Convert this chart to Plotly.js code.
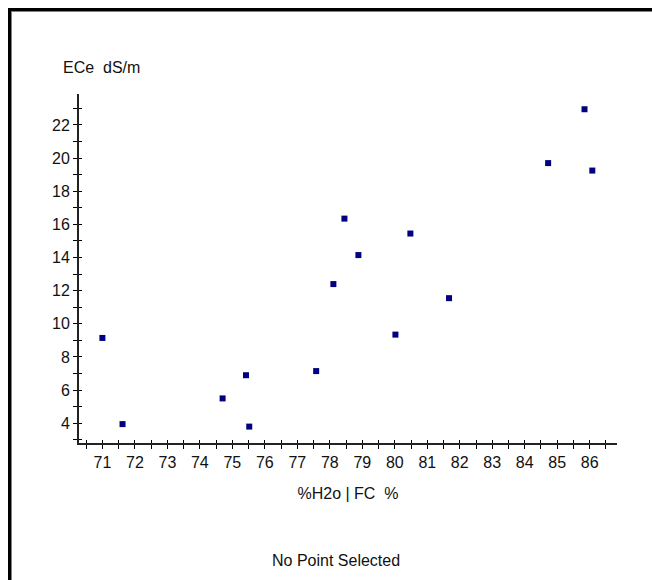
<!DOCTYPE html>
<html>
<head>
<meta charset="utf-8">
<script src="https://cdn.plot.ly/plotly-3.0.1.min.js"></script>
<style>
  html, body { margin: 0; padding: 0; background: #fff; }
  #wrap { position: relative; width: 652px; height: 580px; overflow: hidden; }
  #chart { position: absolute; left: 0; top: 0; width: 652px; height: 580px; }
  #frame { position: absolute; left: 8px; top: 8px; width: 644px; height: 572px;
           box-sizing: border-box; border-top: 3px solid #000; border-left: 3px solid #000;
           box-shadow: inset 1px 1px 0 #808080; pointer-events: none; }
</style>
</head>
<body>
<div id="wrap">
  <div id="chart"></div>
  <div id="frame"></div>
</div>
<script>
// Data
const xValues = [71.00, 71.62, 74.70, 75.42, 75.52, 77.58, 78.11, 78.45, 78.88, 80.02, 80.48, 81.67, 84.72, 85.84, 86.08];
const yValues = [9.15, 3.95, 5.50, 6.90, 3.80, 7.15, 12.40, 16.35, 14.15, 9.35, 15.45, 11.55, 19.70, 22.95, 19.25];

const xTitle = '%H2o | FC  %';
const yTitle = 'ECe  dS/m';
const statusText = 'No Point Selected';

const xRange = [70.28, 86.84];
const yRange = [2.81, 23.87];

const FONT = 'Liberation Sans, Arial, sans-serif';
const TXT = '#111';

const traces = [
  {
    x: xValues, y: yValues, type: 'scatter', mode: 'markers',
    marker: { symbol: 'square', size: 6, color: '#000080' },
    hoverinfo: 'skip', xaxis: 'x', yaxis: 'y'
  },
  {
    // companion trace so the inner-tick overlay axes are drawn
    x: xValues, y: yValues, type: 'scatter', mode: 'markers',
    marker: { size: 1, opacity: 0 },
    hoverinfo: 'skip', xaxis: 'x2', yaxis: 'y2', showlegend: false
  }
];

const baseAxis = {
  showgrid: false, zeroline: false, fixedrange: true
};

const layout = {
  width: 652, height: 580,
  margin: { l: 79, r: 35, t: 94, b: 137 },
  paper_bgcolor: '#fff', plot_bgcolor: '#fff',
  showlegend: false, hovermode: false,
  font: { family: FONT, size: 16, color: TXT },
  xaxis: Object.assign({}, baseAxis, {
    range: xRange, tick0: 0, dtick: 1,
    ticks: 'outside', ticklen: 4, tickwidth: 1, tickcolor: '#000',
    showline: true, linewidth: 2, linecolor: '#222',
    minor: { dtick: 0.5, ticks: 'outside', ticklen: 4, tickwidth: 1, tickcolor: '#000', showgrid: false },
    tickfont: { family: FONT, size: 16, color: TXT },
    title: { text: xTitle, standoff: 18, font: { family: FONT, size: 16, color: TXT } }
  }),
  yaxis: Object.assign({}, baseAxis, {
    range: yRange, tick0: 0, dtick: 2,
    ticks: 'outside', ticklen: 4, tickwidth: 1, tickcolor: '#000',
    showline: true, linewidth: 2, linecolor: '#222',
    minor: { dtick: 1, ticks: 'outside', ticklen: 4, tickwidth: 1, tickcolor: '#000', showgrid: false },
    tickfont: { family: FONT, size: 16, color: TXT }
  }),
  xaxis2: Object.assign({}, baseAxis, {
    range: xRange, tick0: 0, dtick: 1, overlaying: 'x', anchor: 'y2', side: 'bottom',
    ticks: 'inside', ticklen: 3, tickwidth: 1, tickcolor: '#000',
    showticklabels: false, showline: false,
    minor: { dtick: 0.5, ticks: 'inside', ticklen: 3, tickwidth: 1, tickcolor: '#000', showgrid: false }
  }),
  yaxis2: Object.assign({}, baseAxis, {
    range: yRange, tick0: 0, dtick: 2, overlaying: 'y', anchor: 'x2', side: 'left',
    ticks: 'inside', ticklen: 3, tickwidth: 1, tickcolor: '#000',
    showticklabels: false, showline: false,
    minor: { dtick: 1, ticks: 'inside', ticklen: 3, tickwidth: 1, tickcolor: '#000', showgrid: false }
  }),
  annotations: [
    { text: yTitle, xref: 'paper', yref: 'paper', x: -0.0335, y: 1.076,
      xanchor: 'left', yanchor: 'middle', showarrow: false,
      font: { family: FONT, size: 16, color: TXT } },
    { text: statusText, xref: 'paper', yref: 'paper', x: (336 - 79) / 538, y: (443 - 560) / 349,
      xanchor: 'center', yanchor: 'middle', showarrow: false,
      font: { family: FONT, size: 16, color: TXT } }
  ]
};

Plotly.newPlot('chart', traces, layout, { staticPlot: true, displayModeBar: false });
</script>
</body>
</html>
